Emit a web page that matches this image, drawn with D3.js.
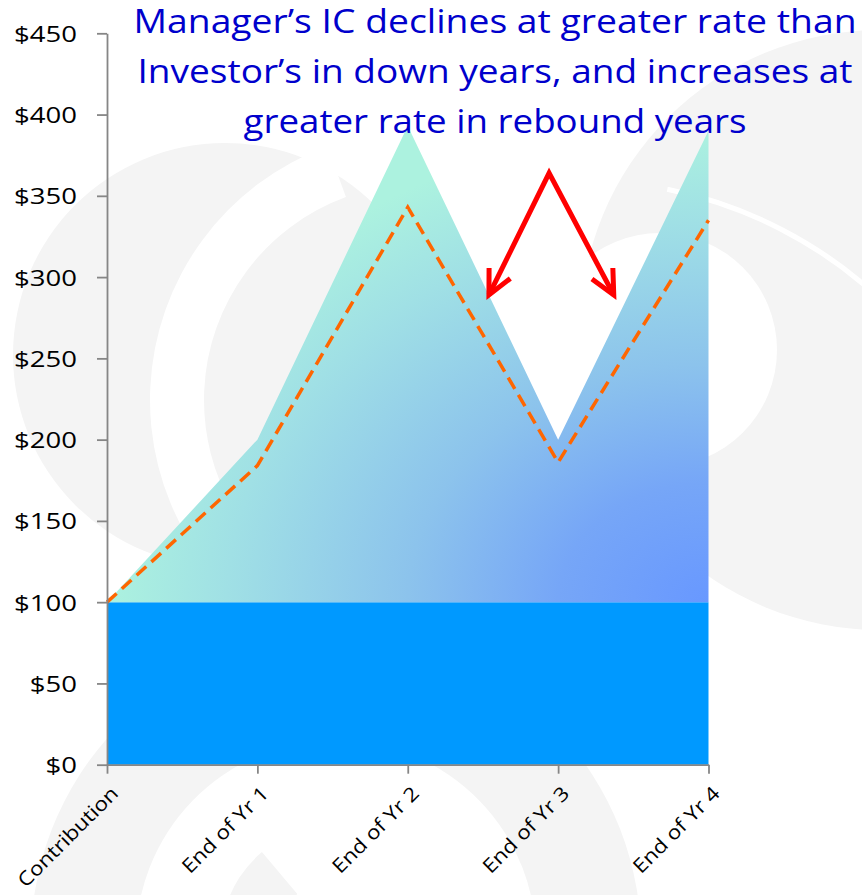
<!DOCTYPE html>
<html>
<head>
<meta charset="utf-8">
<script src="https://cdn.jsdelivr.net/npm/d3@7"></script>
<style>
body{margin:0;background:#fff}
svg{display:block}
</style>
</head>
<body>
<svg id="chart" width="862" height="895"></svg>
<script>
// chart data
const categories=["Contribution","End of Yr 1","End of Yr 2","End of Yr 3","End of Yr 4"];
const contribution=[100,100,100,100,100];
const managerIC=[100,200,393,200,390];
const investorIC=[100,184,343,186,335];
const yTicks=[0,50,100,150,200,250,300,350,400,450];
const titleLines=["Manager’s IC declines at greater rate than","Investor’s in down years, and increases at","greater rate in rebound years"];
// red arrows, in data units (category index, dollars)
const arrows=[{x0:2.94,y0:364,x1:2.54,y1:289},{x0:2.94,y0:364,x1:3.37,y1:289}];

const svg=d3.select("#chart");
const x=d3.scalePoint().domain(categories).range([107,708.5]);
const xi=d3.scaleLinear().domain([0,categories.length-1]).range([107,708.5]);
const y=d3.scaleLinear().domain([0,450]).range([764.7,33.3]);

// faint watermark logo behind the chart
const WM="#f4f4f4";
const bg=svg.append("g");
function ring(cx,cy,r0,r1,a0,a1,fill){
  bg.append("path")
    .attr("transform","translate("+cx+","+cy+")")
    .attr("d",d3.arc()({innerRadius:r0,outerRadius:r1,startAngle:a0,endAngle:a1}))
    .attr("fill",fill);
}
// left disc with white crescent cut
ring(225,355,0,212,0,2*Math.PI,WM);
ring(420,400,216,270,-2.7,-0.35,"#fff");
// right disc with white hollow and thin white seam
ring(880,330,0,300,0,2*Math.PI,WM);
ring(660,350,0,117,0,2*Math.PI,"#fff");
ring(580,620,437,442,0.2,0.75,"#fff");
// bands below the axis
ring(336,940,200,305,-1.6,1.6,WM);
ring(336,940,60,115,-1.9,-0.7,WM);

// gradient for the manager area
const defs=svg.append("defs");
const grad=defs.append("radialGradient").attr("id","mgr")
  .attr("cx",1).attr("cy",1).attr("r",1).attr("fx",1).attr("fy",1);
[[0,"#6898ff"],[0.25,"#76a6f7"],[0.5,"#8cc3ec"],[0.8,"#a0e0e5"],[1,"#acf2df"]]
  .forEach(s=>grad.append("stop").attr("offset",s[0]).attr("stop-color",s[1]));

// base (contribution) block
svg.append("path")
  .datum(contribution)
  .attr("fill","#0099ff")
  .attr("d",d3.area().x((d,i)=>x(categories[i])).y0(y(0)).y1(d=>y(d)));

// manager IC above contribution
svg.append("path")
  .datum(managerIC)
  .attr("fill","url(#mgr)")
  .attr("d",d3.area().x((d,i)=>x(categories[i])).y0((d,i)=>y(contribution[i])).y1(d=>y(d)));

// investor IC dashed line
svg.append("path")
  .datum(investorIC)
  .attr("fill","none")
  .attr("stroke","#ff6600")
  .attr("stroke-width",3.5)
  .attr("stroke-dasharray","13,7")
  .attr("d",d3.line().x((d,i)=>x(categories[i])).y(d=>y(d)));

function stretch(sel,k){
  sel.each(function(){
    const w=this.getComputedTextLength();
    d3.select(this).attr("textLength",w*k).attr("lengthAdjust","spacingAndGlyphs");
  });
}
const font="'Open Sans', sans-serif";

// y axis
const gy=svg.append("g").attr("transform","translate(107,0)")
  .call(d3.axisLeft(y).tickValues(yTicks).tickSize(10).tickSizeOuter(0).tickPadding(20).tickFormat(d=>"$"+d));
// x axis
const gx=svg.append("g").attr("transform","translate(0,"+y(0)+")")
  .call(d3.axisBottom(x).tickSize(9).tickSizeOuter(0));
[gx,gy].forEach(g=>{
  g.select(".domain").attr("stroke","#868686").attr("stroke-width",1.8);
  g.selectAll(".tick line").attr("stroke","#868686").attr("stroke-width",1.8);
  g.selectAll("text").attr("fill","#000").style("font-family",font);
});
gy.selectAll("text").style("font-size","22px").attr("dy","0.36em");
stretch(gy.selectAll("text"),1.25);
gx.selectAll("text")
  .style("font-size","19.5px")
  .attr("text-anchor","end")
  .attr("x",0).attr("y",0).attr("dy",0)
  .attr("transform","translate(12,30) rotate(-45)");
stretch(gx.selectAll("text"),1.15);

// red arrows
const arrowG=svg.append("g").attr("stroke","#ff0000").attr("stroke-width",5)
  .attr("fill","none").attr("stroke-linejoin","miter");
arrowG.append("path").attr("d",d3.line()([
  [xi(arrows[0].x1),y(arrows[0].y1)],[xi(arrows[0].x0),y(arrows[0].y0)],[xi(arrows[1].x1),y(arrows[1].y1)]
]));
arrows.forEach(function(a){
  const tx=xi(a.x1),ty=y(a.y1),fx=xi(a.x0),fy=y(a.y0);
  const ang=Math.atan2(fy-ty,fx-tx),L=27,sp=26*Math.PI/180;
  arrowG.append("path").attr("d",d3.line()([
    [tx+L*Math.cos(ang-sp),ty+L*Math.sin(ang-sp)],[tx,ty],[tx+L*Math.cos(ang+sp),ty+L*Math.sin(ang+sp)]
  ]));
});

// title
const titleY=[33,83,133],titleW=[723,715,503];
svg.append("g").selectAll("text").data(titleLines).enter().append("text")
  .attr("x",495).attr("y",(d,i)=>titleY[i])
  .attr("text-anchor","middle")
  .attr("fill","#0000cc")
  .style("font-family",font).style("font-size","32px")
  .attr("textLength",(d,i)=>titleW[i]).attr("lengthAdjust","spacingAndGlyphs")
  .text(d=>d);
</script>
</body>
</html>
